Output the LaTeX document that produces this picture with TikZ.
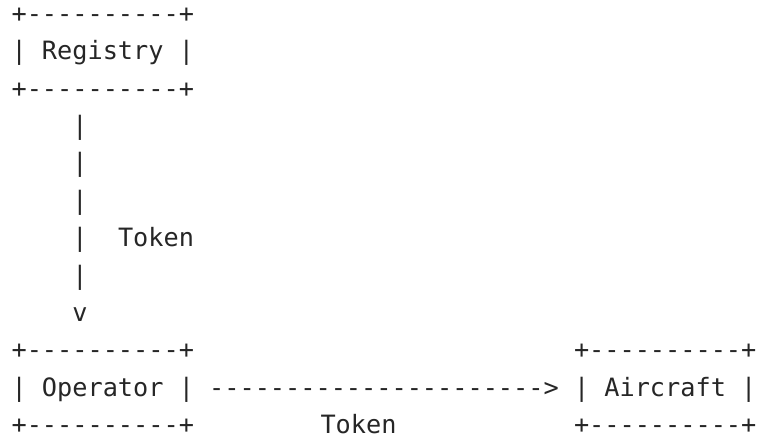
\documentclass[tikz,border=0pt]{standalone}
\usepackage{fontspec}
\setmonofont{DejaVu Sans Mono}
\definecolor{ink}{HTML}{262626}
\tikzset{
  ascii/.style={inner sep=0pt, outer sep=0pt, anchor=base west,
    font=\ttfamily\fontsize{25.34pt}{37pt}\selectfont, text=ink},
}
\begin{document}
\begin{tikzpicture}[x=1bp,y=-1bp]
\useasboundingbox (0,0) rectangle (758,434);
% Registry box
\node[ascii] (reg1) at (11.6,22.5)  {+----------+};
\node[ascii] (reg2) at (11.6,59.86) {| Registry |};
\node[ascii] (reg3) at (11.6,97.22) {+----------+};
% vertical arrow Registry -> Operator
\node[ascii] (v1) at (72.4,134.58) {|};
\node[ascii] (v2) at (72.4,171.94) {|};
\node[ascii] (v3) at (72.4,209.3)  {|};
\node[ascii] (v4) at (72.4,246.66) {|};
\node[ascii] (tok1) at (118.0,246.66) {Token};
\node[ascii] (v5) at (72.4,284.02) {|};
\node[ascii] (vhead) at (72.4,321.38) {v};
% Operator box
\node[ascii] (op1) at (11.6,358.74) {+----------+};
\node[ascii] (op2) at (11.6,396.1)  {| Operator |};
\node[ascii] (op3) at (11.6,433.46) {+----------+};
% horizontal arrow Operator -> Aircraft
\node[ascii] (harrow) at (209.2,396.1) {---------------------->};
\node[ascii] (tok2) at (320.5,433.46) {Token};
% Aircraft box
\node[ascii] (air1) at (574.0,358.74) {+----------+};
\node[ascii] (air2) at (574.0,396.1)  {| Aircraft |};
\node[ascii] (air3) at (574.0,433.46) {+----------+};
\end{tikzpicture}
\end{document}
